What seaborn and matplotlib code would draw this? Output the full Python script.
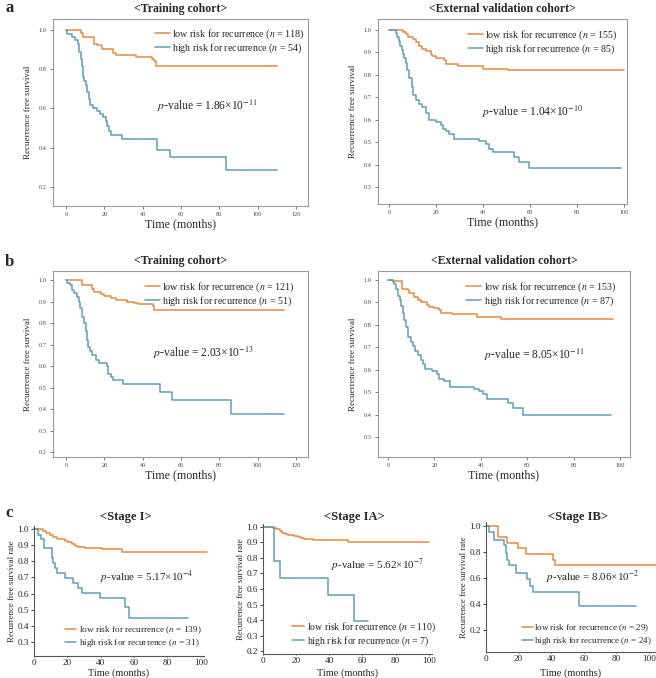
# Kaplan-Meier curves, recurrence free survival by risk group
import matplotlib
matplotlib.use("Agg")
from matplotlib import pyplot as plt
import seaborn as sns

# ---- data ----
# a, training cohort
a_tr_low_t = [0, 7.9, 9.1, 14.8, 16, 19, 24.7, 26, 31.5, 36.7, 45, 46, 47, 110]
a_tr_low_s = [1.0, 0.983, 0.966, 0.93, 0.925, 0.905, 0.885, 0.875, 0.87, 0.86, 0.85, 0.84, 0.815, 0.815]
a_tr_high_t = [0, 0.5, 3, 4.8, 6, 7, 7.8, 8.3, 8.8, 9.5, 10.3, 11.2, 11.9, 12.6, 14.3, 16, 17.8,
               19.5, 20.9, 21.6, 22.6, 23.4, 29.1, 47.4, 54.1, 83.3, 110]
a_tr_high_s = [1.0, 0.98, 0.965, 0.947, 0.93, 0.89, 0.85, 0.815, 0.76, 0.74, 0.72, 0.685, 0.65, 0.62,
               0.60, 0.585, 0.57, 0.555, 0.535, 0.51, 0.485, 0.465, 0.445, 0.39, 0.355, 0.285, 0.285]
# a, external validation cohort
a_ev_low_t = [0, 6, 7.1, 8.2, 10, 11.4, 12.8, 14.2, 15.6, 17.8, 18.5, 19.9, 23.5, 24.2, 29.2, 39.8, 50.5, 100]
a_ev_low_s = [1.0, 0.99, 0.98, 0.97, 0.96, 0.945, 0.93, 0.915, 0.905, 0.895, 0.885, 0.875, 0.865, 0.85,
              0.84, 0.828, 0.82, 0.82]
a_ev_high_t = [0, 2.8, 3.6, 4.3, 4.6, 5.4, 6.0, 6.5, 7.1, 7.8, 8.5, 9.7, 10.2, 11.4, 12.8, 14.2, 15.6,
               17.1, 19.9, 22.0, 22.8, 24.2, 25.6, 27.7, 38.4, 41.3, 42.7, 44.1, 53.3, 55.5, 59.7, 98.9]
a_ev_high_s = [1.0, 0.985, 0.97, 0.95, 0.93, 0.91, 0.895, 0.875, 0.855, 0.82, 0.785, 0.745, 0.71, 0.69,
               0.67, 0.655, 0.63, 0.6, 0.59, 0.575, 0.56, 0.55, 0.535, 0.515, 0.505, 0.49, 0.47, 0.455,
               0.435, 0.41, 0.385, 0.385]
# b, training cohort
b_tr_low_t = [0, 8.4, 13.7, 14.6, 18, 19.8, 23.3, 26, 32, 35.6, 37.4, 45.3, 46.1, 114]
b_tr_low_s = [1.0, 0.975, 0.96, 0.945, 0.935, 0.925, 0.915, 0.905, 0.9, 0.895, 0.89, 0.88, 0.86, 0.86]
b_tr_high_t = [0, 0.5, 2.3, 3.2, 4, 5.8, 6.8, 7.5, 8.4, 9.3, 10.2, 10.7, 11.6, 12.5, 13.7, 15.4, 17.2,
               21.2, 21.9, 23.3, 24.7, 29.5, 48.8, 55.3, 86.1, 114]
b_tr_high_s = [1.0, 0.985, 0.975, 0.955, 0.94, 0.92, 0.9, 0.87, 0.83, 0.8, 0.765, 0.72, 0.69, 0.67,
               0.65, 0.63, 0.615, 0.6, 0.565, 0.55, 0.535, 0.515, 0.48, 0.44, 0.375, 0.375]
# b, external validation cohort
b_ev_low_t = [0, 2, 6, 8.5, 9.2, 11.1, 12.8, 14.2, 17, 17.7, 19.9, 22, 23, 27.7, 38.3, 48.9, 97]
b_ev_low_s = [1.0, 0.995, 0.96, 0.955, 0.94, 0.925, 0.91, 0.9, 0.89, 0.88, 0.875, 0.865, 0.855, 0.85,
              0.835, 0.825, 0.825]
b_ev_high_t = [0, 2.1, 2.8, 3.5, 4.3, 5, 5.7, 6.4, 7.1, 7.8, 8.5, 9.9, 10.6, 11.6, 12.8, 14.2, 14.9,
               15.9, 19.1, 21.3, 22, 24.1, 26.7, 36.9, 39.4, 40.9, 42.6, 51.8, 54, 58, 96.2]
b_ev_high_s = [1.0, 0.99, 0.98, 0.96, 0.93, 0.91, 0.885, 0.855, 0.82, 0.79, 0.745, 0.725, 0.705, 0.685,
               0.665, 0.645, 0.625, 0.605, 0.595, 0.58, 0.56, 0.55, 0.525, 0.515, 0.505, 0.49, 0.47,
               0.45, 0.43, 0.40, 0.40]
# c, stage I / IA / IB
c_i_low_t = [0, 5.4, 7.4, 9.5, 11.5, 13.5, 16.5, 18.5, 20.5, 22.5, 24.5, 26.5, 30.6, 40.6, 52.7, 104]
c_i_low_s = [1.0, 0.99, 0.975, 0.965, 0.95, 0.94, 0.935, 0.925, 0.92, 0.905, 0.895, 0.89, 0.885, 0.875,
             0.855, 0.855]
c_i_high_t = [0, 2.4, 4.4, 6, 10.5, 11.5, 12.5, 13.9, 18.5, 23.5, 26.6, 28.6, 39.6, 54.7, 56.7, 92.4]
c_i_high_s = [1.0, 0.965, 0.935, 0.885, 0.82, 0.79, 0.76, 0.725, 0.695, 0.665, 0.635, 0.605, 0.575,
              0.515, 0.45, 0.45]
c_ia_low_t = [0, 6, 8, 10, 11.4, 13, 15, 17, 19, 21, 23, 25, 30, 51, 100]
c_ia_low_s = [1.0, 0.995, 0.985, 0.975, 0.96, 0.955, 0.95, 0.945, 0.94, 0.935, 0.93, 0.92, 0.915, 0.905, 0.905]
c_ia_high_t = [0, 6.4, 10.2, 39.2, 54.8, 63.3]
c_ia_high_s = [1.0, 0.78, 0.67, 0.56, 0.395, 0.395]
c_ib_low_t = [0, 7.1, 12.7, 19.4, 24.5, 41.2, 42.2, 110]
c_ib_low_s = [1.0, 0.915, 0.865, 0.83, 0.785, 0.74, 0.70, 0.70]
c_ib_high_t = [0, 2, 5.1, 11.2, 12.2, 12.8, 14.3, 18.4, 24.9, 26.9, 28.6, 57.1, 91.8]
c_ib_high_s = [1.0, 0.955, 0.89, 0.85, 0.79, 0.74, 0.70, 0.64, 0.59, 0.54, 0.49, 0.385, 0.385]

titles = ["<Training cohort>", "<External validation cohort>", "<Training cohort>",
          "<External validation cohort>", "<Stage I>", "<Stage IA>", "<Stage IB>"]
n_low = [118, 155, 121, 153, 139, 110, 29]
n_high = [54, 85, 51, 87, 31, 7, 24]
pvals = ["1.86", "1.04", "2.03", "8.05", "5.17", "5.62", "8.06"]
pexps = ["-11", "-10", "-13", "-11", "-4", "-7", "-2"]

# ---- style ----
sns.set_style("ticks")
plt.rcParams['font.family'] = ['Liberation Serif', 'DejaVu Serif']
plt.rcParams['mathtext.fontset'] = 'stix'

ORANGE = "#E5893D"
BLUE = "#5B9FB6"

W, H = 656, 678
fig = plt.figure(figsize=(W / 100, H / 100), dpi=100)


def add_ax(l, t, r, b):
    ax = fig.add_axes([l / W, 1 - b / H, (r - l) / W, (b - t) / H])
    ax.px_box = (l, t, r, b)
    return ax


def km_panel(ax, lt, ls, ht, hs, i, xlim, ylim, yticks, ptxt, leg, small=True, legfs=7.2, tpad=0.3):
    sns.lineplot(x=lt, y=ls, ax=ax, color=ORANGE, lw=1.1, drawstyle='steps-post', clip_on=False,
                 label=f"low risk for recurrence ($\\it{{n}}$ = {n_low[i]})")
    sns.lineplot(x=ht, y=hs, ax=ax, color=BLUE, lw=1.1, drawstyle='steps-post', clip_on=False,
                 label=f"high risk for recurrence ($\\it{{n}}$ = {n_high[i]})")
    ax.set_xlim(*xlim)
    ax.set_ylim(*ylim)
    ax.set_xticks(range(0, int(xlim[1]) + 1, 20))
    ax.set_yticks(yticks)
    ax.text(ptxt[0], ptxt[1], f"$\\it{{p}}$-value = {pvals[i]}×10$^{{{pexps[i]}}}$",
            fontsize=8.3 if small else 7.9, ha='left', va='center', color='#222222')
    l, t, r, b = ax.px_box
    if small:
        ax.set_title(titles[i], fontsize=8.5, fontweight='bold', pad=5)
        ax.set_xlabel("Time (months)", fontsize=8.6, labelpad=1)
        ax.set_ylabel("Recuerrence free survival", fontsize=6.5, labelpad=5)
        ax.tick_params(labelsize=4.5, colors='#444444', length=2.5, width=0.5, pad=2)
        for sp in ax.spines.values():
            sp.set_visible(True)
            sp.set_color('#9a9a9a')
            sp.set_linewidth(0.8)
        ax.legend(loc=leg[0], bbox_to_anchor=leg[1], frameon=False, fontsize=legfs,
                  handlelength=1.5, handletextpad=0.25, labelspacing=0.05,
                  borderpad=0, borderaxespad=0)
    else:
        # titles of row c sit on one line, slightly right of the axes centre
        fig.text(((l + r) / 2 + 7) / W, 1 - 517 / H, titles[i], fontsize=9, fontweight='bold',
                 ha='center', va='center')
        ax.set_xlabel("Time (months)", fontsize=7.5)
        ax.xaxis.set_label_coords(0.5, (b - 673.5) / (b - t))
        ax.xaxis.label.set_verticalalignment('center')
        ax.set_ylabel("Recurrence free survival rate", fontsize=6.3, labelpad=1)
        ax.tick_params(labelsize=6.6, colors='#222222', length=2, width=0.6, pad=1.5)
        ax.tick_params(axis='x', length=1, pad=1.5)
        ax.spines['top'].set_visible(False)
        ax.spines['right'].set_visible(False)
        for sp in ('left', 'bottom'):
            ax.spines[sp].set_color('#555555')
            ax.spines[sp].set_linewidth(0.8)
        ax.legend(loc=leg[0], bbox_to_anchor=leg[1], frameon=False, fontsize=legfs,
                  handlelength=1.2, handletextpad=tpad, labelspacing=0.1,
                  borderpad=0, borderaxespad=0)
    return ax


yt_a1 = [0.2, 0.4, 0.6, 0.8, 1.0]
yt_7 = [0.3, 0.4, 0.5, 0.6, 0.7, 0.8, 0.9, 1.0]
yt_8 = [0.2, 0.3, 0.4, 0.5, 0.6, 0.7, 0.8, 0.9, 1.0]

# a
ax = add_ax(53, 19, 308, 206)
km_panel(ax, a_tr_low_t, a_tr_low_s, a_tr_high_t, a_tr_high_s, 0, (-6.8, 126.3), (0.103, 1.056),
         yt_a1, (47.5, 0.612), ('upper left', (0.40, 0.955)))
ax = add_ax(378, 19, 627, 204)
km_panel(ax, a_ev_low_t, a_ev_low_s, a_ev_high_t, a_ev_high_s, 1, (-4.7, 101.3), (0.224, 1.049),
         yt_7, (39.6, 0.634), ('upper left', (0.36, 0.95)))
# b
ax = add_ax(53, 271, 308, 457)
km_panel(ax, b_tr_low_t, b_tr_low_s, b_tr_high_t, b_tr_high_s, 2, (-6.8, 126.3), (0.177, 1.042),
         yt_8, (45.4, 0.66), ('upper left', (0.36, 0.95)))
ax = add_ax(378, 271, 630, 457)
km_panel(ax, b_ev_low_t, b_ev_low_s, b_ev_high_t, b_ev_high_s, 3, (-4.3, 104.3), (0.211, 1.04),
         yt_7, (41.4, 0.666), ('upper left', (0.35, 0.95)))
# c
ax = add_ax(34, 526, 204, 656)
km_panel(ax, c_i_low_t, c_i_low_s, c_i_high_t, c_i_high_s, 4, (0, 102), (0.214, 1.018),
         yt_7, (39.8, 0.70), ('lower left', (0.18, 0.055)), small=False, legfs=6.7)
ax = add_ax(263, 524, 432, 654)
km_panel(ax, c_ia_low_t, c_ia_low_s, c_ia_high_t, c_ia_high_s, 5, (0, 102), (0.181, 1.019),
         yt_8, (41, 0.755), ('lower left', (0.172, 0.046)), small=False, legfs=7.0)
ax = add_ax(486, 522, 656, 652)
km_panel(ax, c_ib_low_t, c_ib_low_s, c_ib_high_t, c_ib_high_s, 6, (0, 104.3), (0.03, 1.03),
         [0.2, 0.4, 0.6, 0.8, 1.0], (36.8, 0.6), ('lower left', (0.213, 0.04)),
         small=False, legfs=6.5, tpad=0.1)

# panel letters
for letter, y in (("a", 8), ("b", 262), ("c", 513)):
    fig.text(5 / W, 1 - y / H, letter, fontsize=12, fontweight='bold', va='center', ha='left')

fig.savefig("out.png", dpi=100)
